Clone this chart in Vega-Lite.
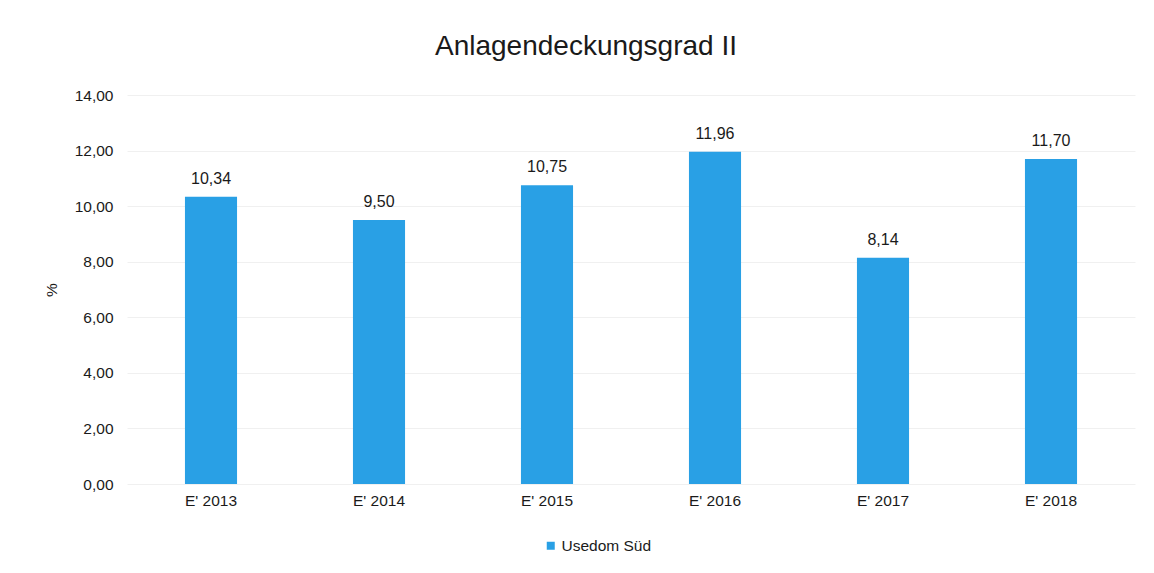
{
  "$schema": "https://vega.github.io/schema/vega-lite/v6.json",
  "width": 1008,
  "height": 389,
  "autosize": {"type": "none"},
  "padding": {"left": 127, "top": 95, "right": 19, "bottom": 89},
  "background": "white",
  "config": {
    "locale": {"number": {"decimal": ",", "thousands": ".", "grouping": [3], "currency": ["", " €"]}},
    "view": {"stroke": null},
    "font": "Liberation Sans"
  },
  "title": {
    "text": "Anlagendeckungsgrad II",
    "font": "Liberation Sans",
    "fontSize": 28,
    "fontWeight": "normal",
    "color": "#1a1a1a",
    "anchor": "middle",
    "dx": -45,
    "offset": 27
  },
  "data": {
    "values": [
      {"jahr": "E' 2013", "wert": 10.34, "serie": "Usedom Süd"},
      {"jahr": "E' 2014", "wert": 9.50, "serie": "Usedom Süd"},
      {"jahr": "E' 2015", "wert": 10.75, "serie": "Usedom Süd"},
      {"jahr": "E' 2016", "wert": 11.96, "serie": "Usedom Süd"},
      {"jahr": "E' 2017", "wert": 8.14, "serie": "Usedom Süd"},
      {"jahr": "E' 2018", "wert": 11.70, "serie": "Usedom Süd"}
    ]
  },
  "encoding": {
    "x": {
      "field": "jahr",
      "type": "nominal",
      "sort": null,
      "scale": {"paddingInner": 0.69, "paddingOuter": 0.345},
      "axis": {
        "title": null,
        "labelAngle": 0,
        "labelFont": "Liberation Sans",
        "labelFontSize": 15.5,
        "labelColor": "#1a1a1a",
        "labelPadding": 9,
        "ticks": false,
        "domain": false,
        "grid": false
      }
    },
    "y": {
      "field": "wert",
      "type": "quantitative",
      "scale": {"domain": [0, 14], "nice": false},
      "axis": {
        "title": "%",
        "titleFont": "Liberation Sans",
        "titleFontSize": 15.5,
        "titleFontWeight": "normal",
        "titleColor": "#1a1a1a",
        "titlePadding": 15,
        "values": [0, 2, 4, 6, 8, 10, 12, 14],
        "format": ".2f",
        "labelFont": "Liberation Sans",
        "labelFontSize": 15.5,
        "labelColor": "#1a1a1a",
        "labelPadding": 14,
        "ticks": false,
        "domain": false,
        "grid": true,
        "gridColor": "#f0f0f0",
        "gridWidth": 1
      }
    }
  },
  "layer": [
    {
      "mark": {"type": "bar", "color": "#29a0e5"},
      "encoding": {
        "color": {
          "field": "serie",
          "type": "nominal",
          "scale": {"range": ["#29a0e5"]},
          "legend": {
            "title": null,
            "orient": "none",
            "legendX": 416,
            "legendY": 443,
            "symbolType": "square",
            "symbolSize": 64,
            "symbolStrokeWidth": 0,
            "labelFont": "Liberation Sans",
            "labelFontSize": 15.5,
            "labelColor": "#1a1a1a",
            "labelOffset": 3
          }
        }
      }
    },
    {
      "mark": {
        "type": "text",
        "baseline": "alphabetic",
        "dy": -13,
        "font": "Liberation Sans",
        "fontSize": 16,
        "color": "#1a1a1a"
      },
      "encoding": {
        "text": {"field": "wert", "type": "quantitative", "format": ".2f"}
      }
    }
  ]
}
